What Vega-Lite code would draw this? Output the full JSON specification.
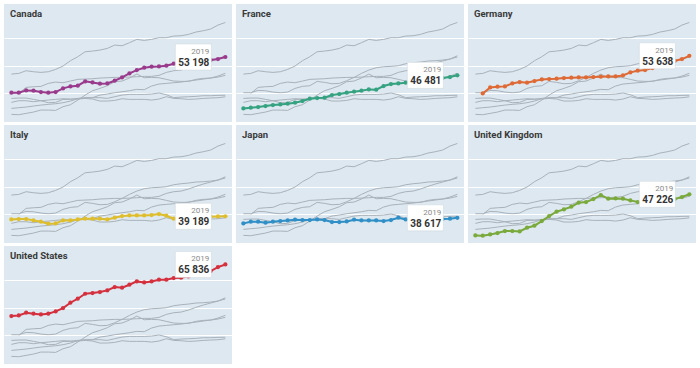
{
  "$schema": "https://vega.github.io/schema/vega-lite/v6.json",
  "padding": {"left": 4, "top": 4, "right": 0, "bottom": 0},
  "background": "white",
  "data": {"values": [
    {"year": 1990, "Canada": 40120, "France": 34380, "Italy": 38040, "Japan": 36580, "United Kingdom": 32190, "United States": 46950},
    {"year": 1991, "Canada": 40120, "France": 34630, "Germany": 39870, "Italy": 38170, "Japan": 37190, "United Kingdom": 32070, "United States": 47190},
    {"year": 1992, "Canada": 40970, "France": 34870, "Germany": 42070, "Italy": 38170, "Japan": 37190, "United Kingdom": 32550, "United States": 48170},
    {"year": 1993, "Canada": 40850, "France": 35240, "Germany": 42310, "Italy": 37680, "Japan": 36820, "United Kingdom": 33040, "United States": 47800},
    {"year": 1994, "Canada": 40360, "France": 35600, "Germany": 42440, "Italy": 37190, "Japan": 37190, "United Kingdom": 33770, "United States": 47560},
    {"year": 1995, "Canada": 40120, "France": 35850, "Germany": 43530, "Italy": 36460, "Japan": 37430, "United Kingdom": 33770, "United States": 47800},
    {"year": 1996, "Canada": 40360, "France": 36090, "Germany": 44020, "Italy": 36580, "Japan": 37680, "United Kingdom": 33650, "United States": 48660},
    {"year": 1997, "Canada": 41700, "France": 36460, "Germany": 43780, "Italy": 37680, "Japan": 37920, "United Kingdom": 34990, "United States": 49880},
    {"year": 1998, "Canada": 42440, "France": 37070, "Germany": 44390, "Italy": 37680, "Japan": 37800, "United Kingdom": 35730, "United States": 51830},
    {"year": 1999, "Canada": 42680, "France": 37920, "Germany": 45000, "Italy": 38040, "Japan": 37800, "United Kingdom": 37430, "United States": 53290},
    {"year": 2000, "Canada": 44270, "France": 38170, "Germany": 45120, "Italy": 38290, "Japan": 38040, "United Kingdom": 39260, "United States": 55120},
    {"year": 2001, "Canada": 43900, "France": 38290, "Germany": 45240, "Italy": 38290, "Japan": 37800, "United Kingdom": 40850, "United States": 55370},
    {"year": 2002, "Canada": 43410, "France": 39260, "Germany": 45490, "Italy": 38290, "Japan": 37070, "United Kingdom": 41700, "United States": 55730},
    {"year": 2003, "Canada": 43530, "France": 39630, "Germany": 45610, "Italy": 38040, "Japan": 37070, "United Kingdom": 42680, "United States": 56340},
    {"year": 2004, "Canada": 44510, "France": 40120, "Germany": 45730, "Italy": 38650, "Japan": 37310, "United Kingdom": 44140, "United States": 57560},
    {"year": 2005, "Canada": 45730, "France": 40480, "Germany": 45730, "Italy": 39260, "Japan": 37920, "United Kingdom": 44390, "United States": 57320},
    {"year": 2006, "Canada": 47190, "France": 40850, "Germany": 45850, "Italy": 39510, "Japan": 37680, "United Kingdom": 45490, "United States": 58420},
    {"year": 2007, "Canada": 48410, "France": 41340, "Germany": 45970, "Italy": 39510, "Japan": 37680, "United Kingdom": 46950, "United States": 59640},
    {"year": 2008, "Canada": 49270, "France": 41220, "Germany": 46100, "Italy": 39510, "Japan": 37680, "United Kingdom": 45610, "United States": 59270},
    {"year": 2009, "Canada": 49630, "France": 42560, "Germany": 46100, "Italy": 39630, "Japan": 37430, "United Kingdom": 45730, "United States": 59640},
    {"year": 2010, "Canada": 49760, "France": 43290, "Germany": 46460, "Italy": 40000, "Japan": 37800, "United Kingdom": 45610, "United States": 60250},
    {"year": 2011, "Canada": 50000, "France": 43530, "Germany": 47560, "Italy": 39390, "Japan": 38650, "United Kingdom": 45000, "United States": 60250},
    {"year": 2012, "Canada": 50730, "France": 43780, "Germany": 48170, "Italy": 38290, "Japan": 38040, "United Kingdom": 44390, "United States": 60860},
    {"year": 2013, "Canada": 51100, "France": 44020, "Germany": 48410, "Italy": 38530, "Japan": 37920, "United Kingdom": 44270, "United States": 60980},
    {"year": 2014, "Canada": 51340, "France": 44390, "Germany": 49150, "Italy": 38650, "Japan": 37680, "United Kingdom": 44270, "United States": 61470},
    {"year": 2015, "Canada": 51710, "France": 44750, "Germany": 50120, "Italy": 38780, "Japan": 37800, "United Kingdom": 45000, "United States": 62320},
    {"year": 2016, "Canada": 51830, "France": 45120, "Germany": 50980, "Italy": 39020, "Japan": 38040, "United Kingdom": 45360, "United States": 62810},
    {"year": 2017, "Canada": 52070, "France": 45490, "Germany": 51710, "Italy": 39020, "Japan": 38170, "United Kingdom": 45490, "United States": 63420},
    {"year": 2018, "Canada": 52440, "France": 45850, "Germany": 52440, "Italy": 39140, "Japan": 38290, "United Kingdom": 46220, "United States": 64880},
    {"year": 2019, "Canada": 53198, "France": 46481, "Germany": 53638, "Italy": 39189, "Japan": 38617, "United Kingdom": 47226, "United States": 65836}
  ]},
  "transform": [
    {"fold": ["Canada", "France", "Germany", "Italy", "Japan", "United Kingdom", "United States"], "as": ["country", "value"]},
    {"fold": ["Canada", "France", "Germany", "Italy", "Japan", "United Kingdom", "United States"], "as": ["panel", "pv"]}
  ],
  "facet": {"field": "panel", "type": "nominal", "title": null, "header": {"title": null, "labels": false, "labelExpr": "''", "labelFontSize": 0, "labelPadding": 0}},
  "columns": 3,
  "spacing": {"row": 3, "column": 4},
  "spec": {
    "width": 228,
    "height": 118,
    "encoding": {
      "x": {"field": "year", "type": "quantitative", "scale": {"domain": [1989, 2019.9], "nice": false, "zero": false}, "axis": null},
      "y": {"field": "value", "type": "quantitative", "scale": {"domain": [29400, 72600], "nice": false, "zero": false},
        "axis": {"values": [40000, 50000, 60000], "grid": true, "gridColor": "white", "gridWidth": 1.2, "gridOpacity": 1, "labels": false, "ticks": false, "domain": false, "title": null}}
    },
    "layer": [
      {"mark": {"type": "line", "color": "#a9b2ba", "strokeWidth": 1}, "encoding": {"detail": {"field": "country", "type": "nominal"}}},
      {"transform": [{"filter": "datum.country === datum.panel"}],
       "mark": {"type": "line", "strokeWidth": 2},
       "encoding": {"color": {"field": "panel", "type": "nominal", "legend": null,
         "scale": {"domain": ["Canada", "France", "Germany", "Italy", "Japan", "United Kingdom", "United States"], "range": ["#9a3a8c", "#35a280", "#df6a35", "#dfbe2d", "#2f8fc6", "#7aa93c", "#d5303e"]}}}},
      {"transform": [{"filter": "datum.country === datum.panel"}],
       "mark": {"type": "circle", "size": 18, "opacity": 1},
       "encoding": {"color": {"field": "panel", "type": "nominal", "legend": null}}},
      {"transform": [{"filter": "datum.country === datum.panel && datum.year === 2019"}],
       "mark": {"type": "rect", "fill": "white", "stroke": "#cfd6dc", "strokeWidth": 0.5, "xOffset": -50, "x2Offset": -14, "yOffset": -13, "y2Offset": 13},
       "encoding": {"x2": {"field": "year"}, "y2": {"field": "value"}}},
      {"transform": [{"filter": "datum.country === datum.panel && datum.year === 2019"}],
       "mark": {"type": "text", "align": "right", "baseline": "middle", "dx": -16, "dy": -5, "font": "Roboto", "fontSize": 8, "color": "#8a8a8a"},
       "encoding": {"text": {"field": "year", "type": "quantitative", "format": "d"}}},
      {"transform": [{"filter": "datum.country === datum.panel && datum.year === 2019"}],
       "mark": {"type": "text", "align": "right", "baseline": "middle", "dx": -16, "dy": 6, "font": "Roboto", "fontSize": 10, "fontWeight": "bold", "color": "#333333"},
       "encoding": {"text": {"field": "value", "type": "quantitative", "format": ",d"}}},
      {"transform": [{"filter": "datum.country === datum.panel && datum.year === 2019"}],
       "mark": {"type": "text", "align": "left", "baseline": "alphabetic", "dx": 6, "dy": 13, "font": "Roboto", "fontSize": 9.5, "fontWeight": "bold", "color": "#3a3a3a"},
       "encoding": {"x": {"datum": 1989}, "y": {"datum": 72600}, "text": {"field": "panel", "type": "nominal"}}}
    ]
  },
  "config": {
    "view": {"fill": "#dde8f0", "stroke": null},
    "header": {"labels": false, "title": null},
    "headerFacet": {"labels": false, "title": null},
    "locale": {"number": {"decimal": ".", "thousands": " ", "grouping": [3], "currency": ["", ""]}}
  }
}
